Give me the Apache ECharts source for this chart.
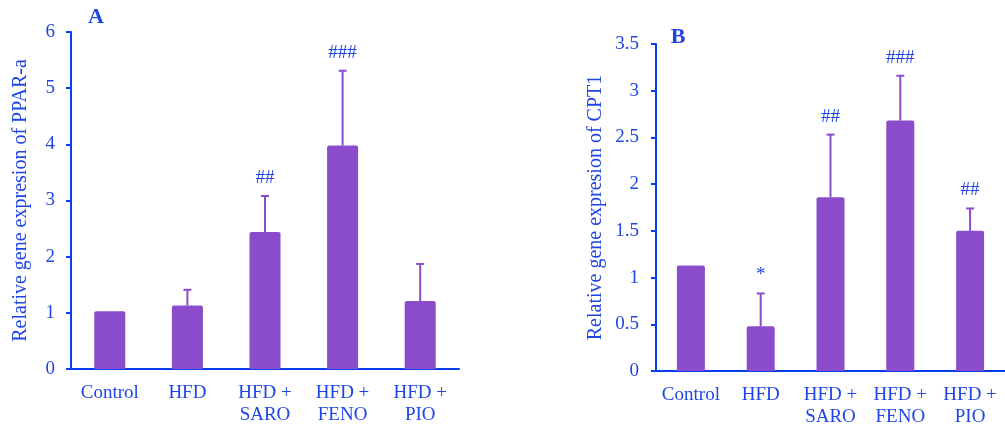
<!DOCTYPE html>
<html><head><meta charset="utf-8">
<script src="https://cdn.jsdelivr.net/npm/echarts@6/dist/echarts.min.js"></script>
<style>html,body{margin:0;padding:0;background:#fff}#c{width:1005px;height:428px}</style>
</head><body><div id="c"></div>
<script>
const categories = ['Control', 'HFD', 'HFD +\nSARO', 'HFD +\nFENO', 'HFD +\nPIO'];
const ppara = [1.03, 1.13, 2.44, 3.98, 1.21];
const pparaSD = [0, 0.28, 0.64, 1.33, 0.66];
const pparaSig = ['', '', '##', '###', ''];
const cpt1 = [1.13, 0.48, 1.86, 2.68, 1.50];
const cpt1SD = [0, 0.35, 0.67, 0.48, 0.24];
const cpt1Sig = ['', '*', '##', '###', '##'];
const ticksA = [0, 1, 2, 3, 4, 5, 6];
const ticksB = [0, 0.5, 1, 1.5, 2, 2.5, 3, 3.5];

const TEXT = '#1f45e8', AXIS = '#0a3cf0', BAR = '#8a4ccb';
const FONT = 'Liberation Serif';

function errSeries(xi, means, sds, sig) {
  return {
    type: 'custom', xAxisIndex: xi, yAxisIndex: xi, z: 5,
    data: means.map((m, i) => [i, m, m + sds[i]]),
    renderItem(params, api) {
      const i = api.value(0), m = api.value(1), t = api.value(2);
      const p0 = api.coord([i, m]), p1 = api.coord([i, t]);
      const children = [];
      if (t > m) {
        children.push({ type: 'line', shape: { x1: p0[0], y1: p0[1], x2: p1[0], y2: p1[1] }, style: { stroke: BAR, lineWidth: 2 } });
        children.push({ type: 'line', shape: { x1: p1[0] - 4, y1: p1[1], x2: p1[0] + 4, y2: p1[1] }, style: { stroke: BAR, lineWidth: 2 } });
      }
      const s = sig[params.dataIndex];
      if (s) {
        children.push({ type: 'text', x: p1[0], y: p1[1] - 18, style: { text: s, fill: TEXT, font: '19px "' + FONT + '"', align: 'center', verticalAlign: 'middle' } });
      }
      return { type: 'group', children };
    }
  };
}

function yAxis(gi, max, interval, name, gap, margin) {
  return {
    type: 'value', gridIndex: gi, min: 0, max, interval,
    name, nameLocation: 'middle', nameGap: gap, nameRotate: 90,
    nameTextStyle: { color: TEXT, fontFamily: FONT, fontSize: 20 },
    axisLine: { show: true, lineStyle: { color: AXIS, width: 2 } },
    axisTick: { show: true, length: 5, lineStyle: { color: AXIS, width: 2 } },
    axisLabel: { color: TEXT, fontFamily: FONT, fontSize: 19, margin },
    splitLine: { show: false }
  };
}
function xAxis(gi) {
  return {
    type: 'category', gridIndex: gi, data: categories,
    axisLine: { lineStyle: { color: AXIS, width: 2 } },
    axisTick: { show: false },
    axisLabel: { color: TEXT, fontFamily: FONT, fontSize: 19, margin: 13, lineHeight: 22, interval: 0 }
  };
}

const chart = echarts.init(document.getElementById('c'), null, { renderer: 'canvas' });
chart.setOption({
  animation: false,
  grid: [
    { left: 71, top: 32, width: 388, height: 337 },
    { left: 656, top: 44, width: 360, height: 327 }
  ],
  xAxis: [xAxis(0), xAxis(1)],
  yAxis: [
    yAxis(0, ticksA[ticksA.length - 1], 1, 'Relative gene expresion of PPAR-a', 40, 16),
    yAxis(1, ticksB[ticksB.length - 1], 0.5, 'Relative gene expresion of CPT1', 50, 17)
  ],
  graphic: [
    { type: 'text', x: 96, y: 17, style: { text: 'A', fill: TEXT, font: 'bold 22px "' + FONT + '"', align: 'center', verticalAlign: 'middle' } },
    { type: 'text', x: 678, y: 37, style: { text: 'B', fill: TEXT, font: 'bold 22px "' + FONT + '"', align: 'center', verticalAlign: 'middle' } }
  ],
  series: [
    { type: 'bar', xAxisIndex: 0, yAxisIndex: 0, data: ppara, barWidth: 31, itemStyle: { color: BAR, borderRadius: [2, 2, 0, 0] } },
    { type: 'bar', xAxisIndex: 1, yAxisIndex: 1, data: cpt1, barWidth: 28, itemStyle: { color: BAR, borderRadius: [2, 2, 0, 0] } },
    errSeries(0, ppara, pparaSD, pparaSig),
    errSeries(1, cpt1, cpt1SD, cpt1Sig)
  ]
});
</script></body></html>
